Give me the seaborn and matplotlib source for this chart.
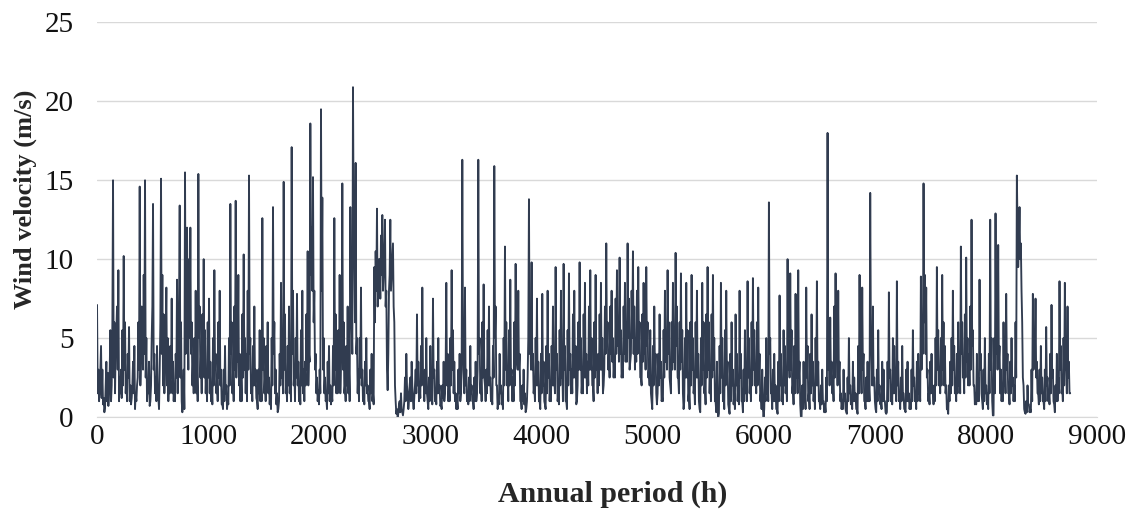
import numpy as np
import pandas as pd
import matplotlib
matplotlib.use('Agg')
import matplotlib.pyplot as plt
import seaborn as sns

# wind velocity (m/s)
# speed_day:  values at h = 0, 24, 48, ...
# speed_mid:  values at h = 12, 36, 60, ...
# speed_dip:  values at h = 6, 18, 30, ... (the short dips between them)
step_h = 6
speed_day = [
    7.1, 1.5, 3.0, 0.6, 2.8, 5.5, 15.0, 4.5, 9.3, 3.0,
    10.2, 2.5, 5.7, 1.2, 4.5, 2.0, 14.6, 5.5, 15.0, 2.0,
    1.0, 13.5, 2.5, 1.2, 15.1, 6.5, 8.2, 3.0, 7.5, 2.0,
    8.7, 13.4, 0.3, 15.5, 6.0, 12.0, 3.5, 8.0, 15.4, 4.0,
    10.0, 3.0, 7.5, 2.0, 9.3, 2.5, 8.0, 0.8, 4.5, 1.0,
    13.5, 3.0, 13.7, 9.0, 2.5, 10.3, 4.0, 15.3, 2.0, 7.0,
    1.0, 5.5, 12.6, 2.5, 6.0, 1.5, 13.3, 3.0, 0.5, 8.5,
    14.9, 2.5, 7.0, 17.1, 3.0, 7.8, 2.0, 8.0, 3.5, 10.5,
    18.6, 15.2, 4.0, 1.7, 19.5, 5.0, 1.2, 4.5, 1.5, 12.6,
    3.0, 9.0, 14.8, 2.0, 7.0, 13.3, 20.9, 16.1, 3.0, 8.2,
    1.5, 5.0, 1.0, 4.0, 9.5, 13.2, 10.0, 12.8, 12.5, 1.7,
    12.5, 11.0, 1.0, 0.2, 1.5, 0.5, 4.0, 1.0, 3.5, 1.2,
    6.5, 2.0, 8.2, 3.0, 1.0, 4.5, 7.5, 1.5, 5.0, 0.8,
    3.5, 8.5, 2.0, 9.3, 3.5, 1.0, 4.0, 16.3, 8.2, 1.5,
    4.5, 1.0, 3.5, 16.3, 2.5, 8.4, 3.0, 7.0, 1.5, 15.9,
    2.0, 4.0, 1.2, 10.8, 3.0, 8.7, 2.5, 9.7, 8.0, 1.0,
    3.0, 0.5, 13.8, 9.8, 2.0, 7.5, 1.0, 7.8, 0.8, 8.0,
    2.0, 7.0, 9.5, 1.5, 8.0, 9.7, 1.0, 9.1, 3.0, 8.0,
    1.0, 9.8, 2.5, 8.5, 3.5, 9.3, 2.0, 9.0, 4.0, 8.5,
    2.0, 11.0, 4.0, 8.0, 3.5, 9.3, 10.1, 3.0, 8.5, 11.0,
    3.5, 10.5, 5.0, 9.5, 2.5, 8.5, 9.5, 3.0, 1.0, 7.0,
    0.8, 6.5, 1.2, 8.0, 9.3, 2.0, 8.5, 10.4, 2.5, 9.1,
    0.5, 8.5, 1.5, 9.0, 2.0, 8.0, 0.5, 8.5, 2.0, 9.5,
    3.0, 9.0, 1.0, 0.0, 8.5, 2.0, 8.0, 0.5, 6.0, 1.5,
    4.0, 8.0, 1.0, 5.5, 8.6, 2.5, 8.8, 3.0, 8.2, 1.5,
    0.0, 5.0, 13.6, 1.5, 4.0, 0.5, 7.7, 2.0, 4.5, 10.0,
    9.1, 2.0, 7.8, 9.3, 0.0, 3.5, 8.2, 1.5, 6.5, 2.0,
    8.6, 1.0, 3.0, 0.8, 18.0, 6.3, 2.5, 9.1, 8.0, 1.5,
    3.0, 0.3, 5.0, 1.0, 2.5, 0.5, 9.0, 8.2, 1.0, 3.5,
    14.2, 7.0, 0.5, 5.5, 1.0, 3.0, 0.2, 7.9, 2.0, 4.5,
    8.6, 1.5, 4.5, 0.5, 3.5, 1.0, 5.5, 1.5, 4.0, 8.9,
    14.8, 8.2, 1.5, 4.0, 2.0, 9.5, 3.0, 9.0, 4.5, 0.5,
    3.5, 8.0, 2.0, 6.0, 10.8, 3.0, 10.1, 4.0, 12.5, 2.0,
    4.0, 8.7, 1.0, 5.0, 1.5, 12.5, 0.1, 12.9, 10.9, 3.0,
    6.0, 7.8, 1.5, 5.0, 2.0, 15.3, 13.3, 6.0, 0.3, 2.0,
    0.5, 7.8, 7.5, 1.5, 4.5, 1.0, 5.7, 1.5, 7.1, 0.8,
    4.0, 8.6, 2.0, 8.5, 7.0, 1.5,
]
speed_mid = [
    3.0, 4.5, 1.2, 3.5, 1.5, 2.0, 6.0, 7.0, 2.5, 5.5,
    6.0, 4.0, 2.0, 3.5, 1.5, 6.0, 4.0, 9.0, 5.0, 3.5,
    5.0, 4.0, 4.5, 3.0, 9.0, 3.0, 5.0, 4.5, 3.5, 4.0,
    4.0, 6.0, 3.0, 9.5, 10.0, 6.0, 5.0, 3.0, 7.0, 6.5,
    5.5, 6.0, 3.5, 5.0, 4.0, 6.0, 3.0, 3.0, 2.0, 5.0,
    6.0, 7.0, 5.0, 4.0, 6.5, 5.0, 8.0, 5.0, 4.5, 3.0,
    3.0, 2.0, 5.0, 4.5, 2.5, 5.0, 6.0, 1.5, 4.0, 3.5,
    6.5, 4.5, 2.5, 8.0, 5.0, 3.5, 5.5, 3.0, 6.5, 4.0,
    12.0, 8.0, 2.5, 3.0, 13.9, 2.5, 3.5, 2.0, 4.5, 6.5,
    5.5, 3.5, 6.0, 4.5, 3.0, 6.0, 10.0, 5.0, 5.0, 3.0,
    3.5, 2.0, 3.0, 1.5, 10.5, 8.5, 11.5, 9.0, 8.0, 8.0,
    9.0, 6.0, 0.5, 1.0, 0.3, 2.5, 1.5, 2.5, 1.0, 3.0,
    3.5, 4.5, 2.5, 5.0, 2.5, 1.5, 3.0, 3.5, 2.0, 2.0,
    1.5, 4.0, 5.0, 5.5, 1.5, 3.0, 1.5, 3.0, 3.0, 2.5,
    2.0, 2.5, 1.5, 5.0, 6.0, 2.0, 5.5, 2.5, 4.5, 7.0,
    1.0, 2.0, 5.0, 6.0, 5.5, 3.0, 6.0, 3.5, 4.0, 2.0,
    1.5, 2.5, 6.0, 4.0, 5.0, 3.5, 4.0, 3.5, 4.5, 4.0,
    4.5, 2.5, 4.0, 5.5, 3.0, 4.5, 5.5, 4.0, 6.5, 4.5,
    6.0, 5.0, 6.5, 4.0, 7.0, 5.0, 6.0, 3.5, 6.5, 5.0,
    7.0, 6.0, 7.0, 5.0, 7.5, 6.0, 5.5, 7.0, 6.0, 7.5,
    8.0, 7.0, 8.0, 6.0, 6.5, 5.0, 6.0, 5.5, 4.5, 4.0,
    4.0, 3.5, 5.5, 5.0, 6.0, 6.0, 5.0, 7.0, 6.0, 5.5,
    5.0, 5.5, 6.0, 5.0, 6.0, 4.0, 5.0, 6.0, 6.5, 6.0,
    6.5, 5.0, 3.5, 4.5, 5.0, 5.5, 3.5, 4.0, 3.0, 6.5,
    2.0, 4.0, 3.0, 2.5, 5.0, 6.0, 5.5, 6.0, 4.0, 3.0,
    2.5, 3.0, 5.0, 3.0, 2.0, 3.5, 4.0, 5.5, 2.5, 4.0,
    5.5, 4.5, 4.0, 3.5, 2.0, 1.5, 4.5, 4.0, 3.5, 5.0,
    3.5, 2.0, 1.0, 2.5, 5.0, 3.5, 7.0, 4.5, 3.5, 1.0,
    1.5, 2.5, 2.0, 3.5, 1.5, 4.5, 3.5, 4.0, 2.5, 2.0,
    4.0, 2.5, 3.0, 2.0, 3.5, 1.0, 3.5, 3.0, 5.0, 2.0,
    3.5, 2.5, 1.5, 3.0, 1.5, 3.0, 2.5, 3.5, 2.0, 6.0,
    9.0, 3.0, 3.5, 1.5, 5.0, 5.5, 5.0, 6.0, 2.0, 2.0,
    5.0, 4.5, 4.0, 3.0, 6.0, 6.5, 5.0, 7.0, 5.5, 1.5,
    2.5, 4.0, 3.0, 2.0, 4.0, 5.0, 5.0, 7.0, 4.5, 2.0,
    3.0, 4.0, 3.5, 2.5, 6.0, 9.5, 11.0, 2.0, 1.0, 0.8,
    3.0, 4.0, 3.5, 3.0, 2.5, 3.0, 2.5, 4.0, 3.0, 2.0,
    2.5, 4.5, 5.0, 3.0, 3.5,
]
speed_dip = [
    1.5, 1.0, 3.0, 1.2, 0.8, 0.3, 2.0, 1.0, 0.7, 3.0, 1.0, 6.0, 2.5, 1.5, 5.5, 3.0, 1.0, 1.5, 1.2, 2.0,
    3.0, 1.5, 1.0, 2.5, 1.0, 0.8, 2.0, 1.5, 0.5, 1.0, 2.5, 3.0, 2.0, 7.0, 3.0, 4.0, 2.5, 1.0, 1.5, 0.7,
    2.0, 7.0, 3.0, 1.5, 1.0, 1.5, 0.5, 6.0, 4.0, 2.0, 1.5, 5.0, 2.0, 1.0, 1.5, 2.5, 1.5, 1.0, 1.0, 2.5,
    1.5, 7.0, 2.5, 1.0, 1.5, 0.5, 4.0, 12.0, 3.0, 5.0, 4.0, 2.0, 1.5, 2.0, 1.5, 1.0, 5.0, 2.5, 1.5, 3.0,
    2.5, 1.5, 1.0, 2.5, 1.5, 1.0, 0.8, 2.0, 3.0, 1.5, 1.0, 2.5, 2.0, 0.8, 0.5, 1.0, 1.5, 0.5, 0.8, 2.0,
    4.0, 1.5, 1.0, 3.0, 2.5, 3.5, 2.0, 1.0, 1.0, 2.5, 3.0, 1.5, 1.0, 3.0, 4.0, 1.5, 1.0, 2.0, 2.0, 1.2,
    0.5, 1.5, 1.0, 1.0, 3.0, 1.5, 1.0, 2.0, 1.5, 0.8, 0.5, 2.0, 4.0, 1.5, 0.8, 0.3, 1.0, 2.0, 2.5, 1.5,
    3.0, 1.5, 1.0, 2.0, 1.5, 1.0, 4.0, 2.0, 1.0, 2.5, 2.0, 1.0, 0.8, 2.0, 1.5, 1.0, 2.0, 3.0, 2.0, 3.5,
    9.0, 8.0, 6.0, 3.0, 1.5, 1.0, 0.8, 1.5, 8.0, 3.0, 1.5, 1.0, 0.5, 1.5, 1.0, 0.8, 1.0, 2.0, 3.0, 1.5,
    1.5, 2.0, 1.5, 4.0, 3.0, 1.5, 1.0, 2.0, 1.5, 1.0, 7.0, 4.0, 12.0, 6.0, 4.0, 1.5, 1.0, 2.5, 2.0, 1.0,
    0.8, 2.0, 1.5, 1.0, 0.5, 1.5, 1.0, 0.8, 6.0, 8.0, 7.0, 10.0, 7.5, 9.0, 8.0, 10.5, 7.0, 3.0, 4.0, 9.0,
    8.0, 10.0, 7.0, 2.0, 0.2, 0.0, 0.8, 0.3, 0.5, 0.1, 1.0, 1.0, 2.0, 0.5, 2.0, 1.0, 2.0, 0.5, 2.0, 1.5,
    2.0, 1.0, 1.2, 2.0, 3.0, 1.0, 1.5, 1.5, 0.5, 1.0, 2.0, 0.8, 2.5, 1.0, 0.8, 1.5, 1.5, 0.7, 0.5, 1.2,
    1.0, 3.0, 2.0, 1.0, 1.0, 2.0, 3.0, 1.5, 1.0, 0.5, 0.5, 1.5, 1.0, 3.0, 5.0, 1.5, 2.0, 1.0, 0.8, 1.0,
    1.5, 1.0, 0.5, 1.0, 1.0, 3.0, 4.0, 1.5, 1.0, 2.5, 2.5, 1.0, 1.5, 2.0, 2.0, 1.0, 0.8, 2.5, 5.0, 2.0,
    0.5, 0.8, 1.5, 0.8, 0.5, 2.0, 3.0, 2.0, 1.0, 2.0, 2.5, 1.0, 1.0, 2.0, 4.0, 3.0, 3.0, 1.0, 0.5, 1.0,
    0.8, 0.3, 1.0, 5.0, 4.0, 3.0, 3.0, 1.5, 1.0, 2.0, 2.0, 1.0, 0.5, 1.5, 2.0, 1.0, 0.5, 1.5, 2.5, 1.0,
    1.0, 2.0, 2.0, 1.5, 3.0, 1.0, 0.8, 2.0, 2.5, 1.0, 3.0, 1.0, 0.5, 2.0, 3.0, 1.5, 1.5, 2.5, 2.5, 0.8,
    2.0, 3.0, 3.0, 1.5, 1.5, 2.5, 2.5, 1.5, 2.0, 3.0, 3.0, 2.0, 1.0, 2.5, 3.0, 1.5, 2.0, 3.0, 3.0, 1.5,
    3.0, 4.0, 4.5, 3.0, 2.5, 4.0, 3.5, 2.5, 2.5, 4.0, 4.5, 3.5, 4.0, 2.5, 2.5, 4.0, 3.5, 3.5, 5.0, 3.0,
    4.0, 5.0, 4.0, 3.0, 3.5, 4.0, 4.5, 2.5, 2.0, 3.5, 4.0, 3.0, 4.5, 2.5, 2.0, 1.5, 0.5, 2.0, 3.0, 1.5,
    1.5, 2.0, 2.5, 1.0, 1.0, 2.5, 3.5, 3.0, 4.0, 2.5, 1.5, 3.0, 3.5, 3.0, 4.5, 2.5, 1.5, 3.0, 3.5, 1.5,
    1.0, 2.5, 2.5, 1.0, 0.5, 2.0, 3.0, 1.5, 0.8, 2.5, 2.5, 1.0, 0.3, 2.0, 3.0, 1.5, 0.8, 2.5, 3.0, 1.5,
    1.0, 2.5, 3.0, 1.0, 0.3, 0.5, 0.2, 1.5, 2.5, 1.0, 0.5, 2.0, 2.5, 0.8, 0.2, 1.0, 2.0, 0.8, 0.5, 2.0,
    1.0, 0.8, 2.5, 1.0, 0.3, 1.0, 1.5, 1.0, 2.5, 1.5, 1.0, 2.0, 3.0, 2.0, 1.5, 2.0, 2.5, 1.0, 0.5, 0.5,
    0.5, 1.0, 1.5, 1.0, 4.0, 1.5, 0.5, 1.0, 1.0, 0.5, 0.2, 1.0, 2.0, 1.0, 0.8, 2.0, 1.5, 1.0, 3.0, 2.5,
    3.0, 1.5, 0.8, 1.5, 2.5, 1.5, 2.5, 0.8, 0.0, 0.5, 1.0, 0.5, 2.5, 1.0, 0.5, 1.5, 2.0, 1.0, 0.5, 2.0,
    2.0, 1.0, 0.5, 0.8, 1.0, 0.3, 0.3, 1.0, 3.0, 2.0, 2.5, 1.5, 1.0, 2.5, 3.5, 2.0, 2.5, 1.0, 0.5, 0.5,
    1.0, 0.5, 0.2, 1.0, 1.5, 0.8, 0.5, 1.0, 1.0, 0.5, 0.2, 1.5, 3.0, 1.5, 3.0, 1.0, 0.5, 1.0, 1.0, 1.0,
    5.0, 2.0, 2.0, 1.0, 0.3, 1.0, 1.5, 0.8, 0.5, 1.0, 1.0, 0.3, 0.3, 1.0, 2.5, 1.0, 0.8, 1.5, 1.5, 1.0,
    2.0, 1.0, 0.5, 1.0, 1.5, 0.5, 0.3, 1.0, 1.0, 0.5, 0.5, 1.0, 2.0, 1.0, 0.5, 1.0, 1.5, 1.0, 3.0, 4.0,
    6.0, 4.0, 2.5, 1.0, 0.8, 1.5, 1.5, 0.8, 1.0, 2.0, 3.0, 2.0, 1.5, 2.0, 3.0, 2.0, 1.5, 0.5, 0.2, 1.0,
    1.5, 2.0, 3.0, 1.5, 1.0, 1.5, 2.0, 1.5, 4.0, 2.5, 1.5, 2.5, 3.5, 2.0, 2.0, 3.0, 4.5, 2.0, 0.8, 0.8,
    1.0, 1.0, 3.0, 1.5, 0.5, 1.0, 1.5, 0.8, 0.5, 1.5, 3.0, 1.0, 0.1, 1.5, 4.0, 3.0, 3.5, 1.5, 1.0, 1.0,
    2.0, 1.5, 3.0, 1.5, 0.8, 1.5, 2.0, 1.0, 1.0, 2.5, 12.0, 11.0, 10.0, 8.0, 2.5, 0.5, 0.2, 0.3, 0.8, 0.3,
    0.3, 1.0, 3.0, 3.5, 2.5, 1.5, 0.8, 1.0, 1.5, 1.0, 0.5, 1.0, 2.0, 1.0, 0.8, 1.5, 2.5, 1.0, 0.3, 1.0,
    1.0, 1.5, 3.0, 1.5, 1.0, 2.0, 3.0, 1.5, 2.5, 1.5,
]

# merge the three readings into one time-ordered series
speed_12h = np.empty(len(speed_day) + len(speed_mid))
speed_12h[0::2] = speed_day
speed_12h[1::2] = speed_mid
wind_speed = np.empty(len(speed_12h) + len(speed_dip))
wind_speed[0::2] = speed_12h
wind_speed[1::2] = speed_dip
hours = np.arange(len(wind_speed)) * step_h

x_ticks = list(range(0, 9001, 1000))
y_ticks = [0, 5, 10, 15, 20, 25]

df = pd.DataFrame({'hour': hours, 'speed': wind_speed})

sns.set_style('white')
plt.rcParams['font.family'] = ['Liberation Serif', 'DejaVu Serif']

fig = plt.figure(figsize=(11.31, 5.11), dpi=100)
ax = fig.add_axes([0.0858, 0.184, 0.884, 0.772])

sns.lineplot(data=df, x='hour', y='speed', ax=ax, color='#313C50', linewidth=1.35)

ax.set_xlim(0, 9000)
ax.set_ylim(0, 25)
ax.set_xticks(x_ticks)
ax.set_yticks(y_ticks)
ax.yaxis.grid(True, color='#D9D9D9', linewidth=1)
ax.set_axisbelow(True)
for s in ['top', 'right', 'left']:
    ax.spines[s].set_visible(False)
ax.spines['bottom'].set_color('#D9D9D9')
ax.tick_params(axis='both', length=0, labelsize=21, colors='#111111')
ax.tick_params(axis='y', pad=17)
ax.tick_params(axis='x', pad=5)

ax.set_xlabel('Annual period (h)', fontsize=21.5, fontweight='bold')
ax.set_ylabel('Wind velocity (m/s)', fontsize=19, fontweight='bold')
ax.xaxis.set_label_coords(0.516, -0.162)
ax.yaxis.set_label_coords(-0.06, 0.553)

fig.savefig('out.png', dpi=100)
